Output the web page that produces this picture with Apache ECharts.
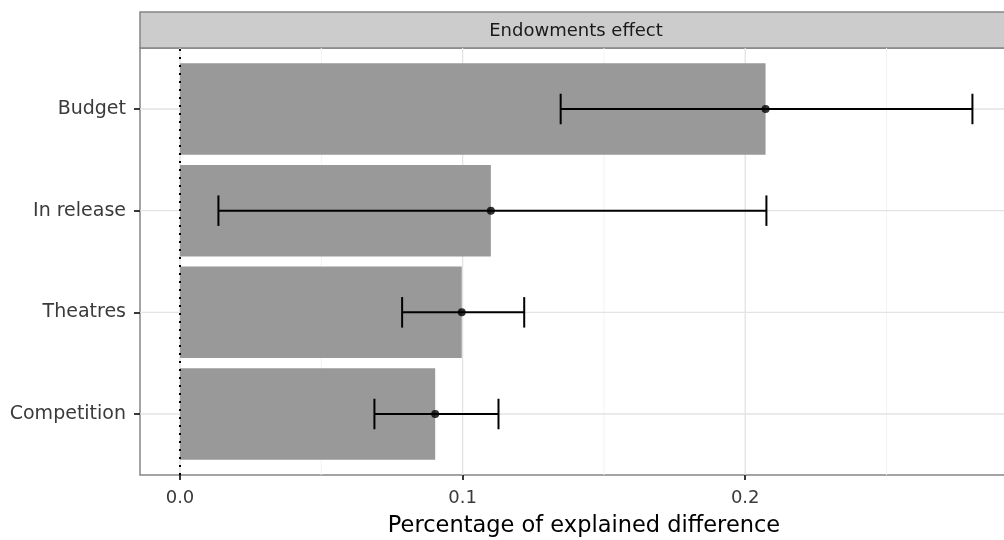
<!DOCTYPE html>
<html>
<head>
<meta charset="utf-8">
<script src="https://cdn.jsdelivr.net/npm/echarts@6/dist/echarts.min.js"></script>
<style>
html,body{margin:0;padding:0;background:#ffffff;}
#chart{width:1004px;height:540px;}
</style>
</head>
<body>
<div id="chart"></div>
<script>
// ---- data (top to bottom) ----
const categories = ['Budget', 'In release', 'Theatres', 'Competition'];
const shares     = [0.2072, 0.1100, 0.0997, 0.0903];
const lowerCI    = [0.1347, 0.0136, 0.0786, 0.0688];
const upperCI    = [0.2804, 0.2075, 0.1218, 0.1127];
const xTicks     = [0, 0.1, 0.2];
const xMinorBreaks = [0.05, 0.15, 0.25];
const facetLabel = 'Endowments effect';
const xTitle     = 'Percentage of explained difference';

// ---- derived ----
const n = categories.length;
const yPos = categories.map((c, i) => n - i);
const barData = categories.map((c, i) => [yPos[i], shares[i]]);
const errData = categories.map((c, i) => [yPos[i], lowerCI[i], upperCI[i]]);
const pointData = categories.map((c, i) => [shares[i], yPos[i]]);
const vGridData = xTicks.map(v => [v, 0]).concat(xMinorBreaks.map(v => [v, 1]));
const hGridData = yPos.map(p => [0, p]);

const FONT = 'DejaVu Sans';
const chart = echarts.init(document.getElementById('chart'), null, {renderer: 'canvas'});

chart.setOption({
  animation: false,
  backgroundColor: '#ffffff',
  grid: {
    left: 140, top: 48, width: 872, height: 427,
    show: true, backgroundColor: '#ffffff',
    borderColor: '#858585', borderWidth: 1.5,
    containLabel: false, outerBoundsMode: 'none'
  },
  graphic: [
    {
      type: 'rect', z: 1,
      shape: {x: 140, y: 12, width: 872, height: 36},
      style: {fill: '#cccccc', stroke: '#858585', lineWidth: 1.5}
    },
    {
      type: 'text', z: 2, x: 576, y: 31,
      style: {
        text: facetLabel, fill: '#1a1a1a', font: '18px "DejaVu Sans"',
        textAlign: 'center', textVerticalAlign: 'middle'
      }
    }
  ],
  xAxis: {
    type: 'value', min: -0.01415, max: 0.2944,
    position: 'bottom',
    axisLine: {show: false, onZero: false},
    splitLine: {show: false},
    axisTick: {show: true, inside: false, customValues: xTicks, length: 5, lineStyle: {color: '#222222', width: 1.8}},
    axisLabel: {
      customValues: xTicks, margin: 14,
      formatter: v => Number(v).toFixed(1),
      color: '#3a3a3a', fontSize: 18, fontFamily: FONT
    },
    name: xTitle, nameLocation: 'middle', nameGap: 40,
    nameTextStyle: {color: '#000000', fontSize: 22.5, fontFamily: FONT, padding: [0, 0, 0, 16]}
  },
  yAxis: {
    type: 'value', min: 0.4, max: 4.6,
    position: 'left',
    axisLine: {show: false, onZero: false},
    splitLine: {show: false},
    axisTick: {show: true, inside: false, customValues: yPos, length: 6, lineStyle: {color: '#222222', width: 1.8}},
    axisLabel: {
      customValues: yPos, margin: 14,
      formatter: v => categories[n - Math.round(v)],
      color: '#3a3a3a', fontSize: 19, fontFamily: FONT
    }
  },
  series: [
    {
      name: 'vgrid', type: 'custom', z: 1, silent: true,
      data: vGridData,
      encode: {x: 0},
      renderItem: function (params, api) {
        const cs = params.coordSys;
        const x = api.coord([api.value(0), 1])[0];
        const minor = api.value(1) === 1;
        return {
          type: 'line',
          shape: {x1: x, y1: cs.y, x2: x, y2: cs.y + cs.height},
          style: {stroke: minor ? '#f3f3f3' : '#e3e3e3', lineWidth: minor ? 1 : 1.3}
        };
      }
    },
    {
      name: 'hgrid', type: 'custom', z: 1, silent: true,
      data: hGridData,
      encode: {y: 1},
      renderItem: function (params, api) {
        const cs = params.coordSys;
        const y = api.coord([0, api.value(1)])[1];
        return {
          type: 'line',
          shape: {x1: cs.x, y1: y, x2: cs.x + cs.width, y2: y},
          style: {stroke: '#e3e3e3', lineWidth: 1.3}
        };
      }
    },
    {
      name: 'bars', type: 'custom', z: 2,
      data: barData,
      encode: {x: 1, y: 0},
      renderItem: function (params, api) {
        const p = api.value(0), v = api.value(1);
        const a = api.coord([0, p + 0.45]);
        const b = api.coord([v, p - 0.45]);
        return {
          type: 'rect',
          shape: {x: a[0], y: a[1], width: b[0] - a[0], height: b[1] - a[1]},
          style: {fill: '#999999'}
        };
      }
    },
    {
      name: 'errorbars', type: 'custom', z: 3,
      data: errData,
      encode: {x: [1, 2], y: 0},
      renderItem: function (params, api) {
        const p = api.value(0), lo = api.value(1), hi = api.value(2);
        const l = api.coord([lo, p]);
        const h = api.coord([hi, p]);
        const t = api.coord([lo, p + 0.15])[1];
        const bt = api.coord([lo, p - 0.15])[1];
        const st = {stroke: '#000000', lineWidth: 2};
        return {
          type: 'group',
          children: [
            {type: 'line', shape: {x1: l[0], y1: l[1], x2: h[0], y2: h[1]}, style: st},
            {type: 'line', shape: {x1: l[0], y1: t, x2: l[0], y2: bt}, style: st},
            {type: 'line', shape: {x1: h[0], y1: t, x2: h[0], y2: bt}, style: st}
          ]
        };
      }
    },
    {
      name: 'points', type: 'scatter', z: 4,
      data: pointData,
      symbol: 'circle', symbolSize: 8,
      itemStyle: {color: '#000000'},
      markLine: {
        silent: true, symbol: ['none', 'none'],
        label: {show: false},
        lineStyle: {color: '#000000', type: [2, 6], width: 2},
        data: [{xAxis: 0}]
      }
    }
  ]
});
</script>
</body>
</html>
